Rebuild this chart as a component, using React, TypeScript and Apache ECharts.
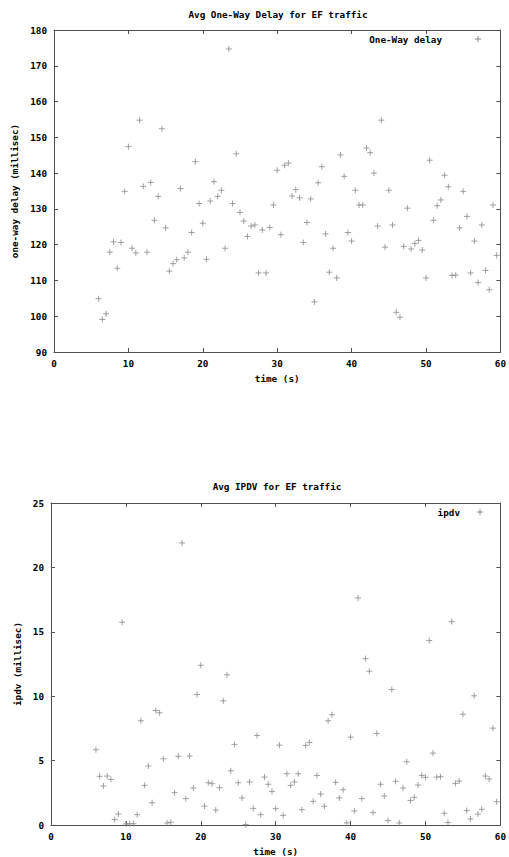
import React, { useEffect, useRef } from "react";
import * as echarts from "echarts";

const times = [
  6, 6.5, 7, 7.5, 8, 8.5, 9, 9.5, 10, 10.5, 11, 11.5, 12, 12.5, 13, 13.5, 14, 14.5, 15, 15.5,
  16, 16.5, 17, 17.5, 18, 18.5, 19, 19.5, 20, 20.5, 21, 21.5, 22, 22.5, 23, 23.5, 24, 24.5, 25, 25.5,
  26, 26.5, 27, 27.5, 28, 28.5, 29, 29.5, 30, 30.5, 31, 31.5, 32, 32.5, 33, 33.5, 34, 34.5, 35, 35.5,
  36, 36.5, 37, 37.5, 38, 38.5, 39, 39.5, 40, 40.5, 41, 41.5, 42, 42.5, 43, 43.5, 44, 44.5, 45, 45.5,
  46, 46.5, 47, 47.5, 48, 48.5, 49, 49.5, 50, 50.5, 51, 51.5, 52, 52.5, 53, 53.5, 54, 54.5, 55, 55.5,
  56, 56.5, 57, 57.5, 58, 58.5, 59, 59.5,
];

const oneWayDelay = [
  104.9, 99.1, 100.7, 117.9, 120.8, 113.4, 120.6, 134.9, 147.4, 119.0, 117.7, 154.8, 136.3, 117.9, 137.4, 126.8, 133.5, 152.4, 124.7, 112.6,
  114.7, 115.8, 135.7, 116.3, 117.9, 123.4, 143.2, 131.5, 126.0, 115.9, 132.2, 137.6, 133.5, 135.2, 119.0, 174.7, 131.5, 145.4, 129.0, 126.6,
  122.3, 125.2, 125.5, 112.1, 124.1, 112.1, 124.8, 131.1, 140.8, 122.8, 142.2, 142.8, 133.6, 135.4, 133.1, 120.6, 126.2, 132.8, 104.0, 137.3,
  141.8, 123.0, 112.3, 119.0, 110.7, 145.1, 139.1, 123.4, 121.0, 135.2, 131.1, 131.1, 147.0, 145.7, 140.0, 125.2, 154.8, 119.3, 135.2, 125.5,
  101.1, 99.7, 119.5, 130.2, 118.8, 120.3, 121.2, 118.5, 110.7, 143.6, 126.8, 130.9, 132.5, 139.4, 136.2, 111.4, 111.5, 124.7, 134.9, 127.9,
  112.1, 121.0, 109.4, 125.5, 112.8, 107.4, 131.1, 117.0,
];

const ipdv = [
  5.84, 3.78, 3.03, 3.8, 3.54, 0.42, 0.85, 15.74, 0.08, 0.1, 0.1, 0.8, 8.09, 3.08, 4.58, 1.73, 8.89, 8.71, 5.14, 0.16,
  0.21, 2.51, 5.33, 21.9, 2.05, 5.35, 2.87, 10.13, 12.4, 1.47, 3.28, 3.21, 1.16, 2.9, 9.64, 11.66, 4.21, 6.26, 3.28, 2.1,
  0.03, 3.34, 1.29, 6.95, 0.8, 3.72, 3.16, 2.61, 1.27, 6.2, 0.75, 3.98, 3.08, 3.34, 3.98, 1.19, 6.18, 6.41, 1.84, 3.85,
  2.4, 1.45, 8.09, 8.56, 3.31, 2.1, 2.74, 0.16, 6.82, 1.09, 17.63, 2.05, 12.92, 11.94, 0.96, 7.11, 3.16, 2.25, 0.34, 10.52,
  3.39, 0.16, 2.87, 4.91, 1.91, 2.15, 3.1, 3.85, 3.7, 14.32, 5.58, 3.72, 3.75, 0.91, 0.19, 15.79, 3.23, 3.41, 8.6, 1.12,
  0.47, 10.03, 0.85, 1.22, 3.8, 3.57, 7.52, 1.81,
];

const xTicks = { min: 0, max: 60, interval: 10 };
const delayTicks = { min: 90, max: 180, interval: 10 };
const ipdvTicks = { min: 0, max: 25, interval: 5 };

const titles = ["Avg One-Way Delay for EF traffic", "Avg IPDV for EF traffic"];
const seriesNames = ["One-Way delay", "ipdv"];
const yNames = ["one-way delay (millisec)", "ipdv (millisec)"];
const xName = "time (s)";

const FONT = "DejaVu Sans Mono";
const FS = 9.3;
const AXIS_COLOR = "#505050";
const POINT_COLOR = "#8a8a8a";
const PLUS = "path://M0,5L10,5M5,0L5,10";

export default function App() {
  const ref = useRef<HTMLDivElement>(null);

  useEffect(() => {
    if (!ref.current) return;
    const chart = echarts.init(ref.current, null, { renderer: "svg" });

    const textStyle = { fontFamily: FONT, fontSize: FS, fontWeight: "bold", color: "#000" };

    const axisCommon = (showLabel: boolean) => ({
      axisLine: { show: true, onZero: false, lineStyle: { color: AXIS_COLOR, width: 1 } },
      axisTick: { show: true, inside: true, length: 4, lineStyle: { color: AXIS_COLOR } },
      axisLabel: { show: showLabel, ...textStyle, margin: 7 },
      splitLine: { show: false },
    });

    const xAxes: any[] = [];
    const yAxes: any[] = [];
    [0, 1].forEach((g) => {
      xAxes.push({
        type: "value", gridIndex: g, position: "bottom", ...xTicks,
        ...axisCommon(true),
        name: xName, nameLocation: "middle", nameGap: 22,
        nameTextStyle: textStyle,
      });
      xAxes.push({
        type: "value", gridIndex: g, position: "top", ...xTicks,
        ...axisCommon(false),
      });
      const yt = g === 0 ? delayTicks : ipdvTicks;
      yAxes.push({
        type: "value", gridIndex: g, position: "left", ...yt,
        ...axisCommon(true),
        name: yNames[g], nameLocation: "middle", nameGap: g === 0 ? 32 : 29,
        nameTextStyle: textStyle,
      });
      yAxes.push({
        type: "value", gridIndex: g, position: "right", ...yt,
        ...axisCommon(false),
      });
    });

    const scatter = (name: string, values: number[], g: number) => ({
      type: "scatter",
      name,
      xAxisIndex: g * 2,
      yAxisIndex: g * 2,
      data: times.map((t, i) => [t, values[i]]),
      symbol: PLUS,
      symbolSize: 6,
      itemStyle: { color: POINT_COLOR, borderColor: POINT_COLOR, borderWidth: 1 },
      emphasis: { disabled: true },
    });

    const legendItem = (label: string, textRight: number, plusX: number, y: number) => [
      {
        type: "text",
        left: undefined,
        x: textRight,
        y,
        style: { text: label, fontFamily: FONT, fontSize: FS, fontWeight: "bold", fill: "#000", align: "right", verticalAlign: "middle" },
      },
      { type: "line", shape: { x1: plusX - 3, y1: y, x2: plusX + 3, y2: y }, style: { stroke: POINT_COLOR, lineWidth: 1 } },
      { type: "line", shape: { x1: plusX, y1: y - 3, x2: plusX, y2: y + 3 }, style: { stroke: POINT_COLOR, lineWidth: 1 } },
    ];

    chart.setOption({
      animation: false,
      backgroundColor: "#fff",
      title: [
        { text: titles[0], left: 278, top: 10, textAlign: "center", padding: 0, textStyle: { ...textStyle } },
        { text: titles[1], left: 277, top: 482, textAlign: "center", padding: 0, textStyle: { ...textStyle } },
      ],
      grid: [
        { left: 54, top: 30, width: 448, height: 322 },
        { left: 51, top: 503, width: 453, height: 323 },
      ],
      xAxis: xAxes,
      yAxis: yAxes,
      series: [scatter(seriesNames[0], oneWayDelay, 0), scatter(seriesNames[1], ipdv, 1)],
      graphic: [
        ...legendItem(seriesNames[0], 442, 478, 39),
        ...legendItem(seriesNames[1], 460, 480, 512),
      ],
    });

    return () => chart.dispose();
  }, []);

  return (
    <div
      ref={ref}
      style={{ position: "fixed", left: 0, top: 0, width: 509, height: 857, background: "#fff" }}
    />
  );
}
